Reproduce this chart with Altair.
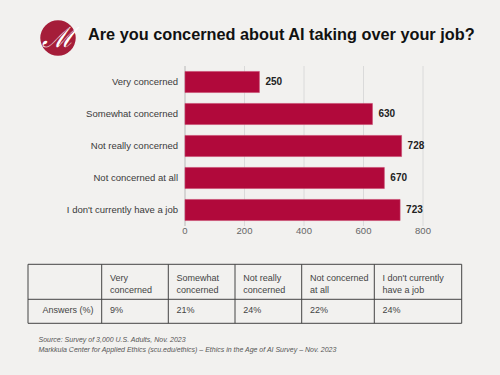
import altair as alt
import pandas as pd

# ---------------- data ----------------
categories = ["Very concerned", "Somewhat concerned", "Not really concerned",
              "Not concerned at all", "I don't currently have a job"]
counts = [250, 630, 728, 670, 723]
shares = [9, 21, 24, 22, 24]
x_ticks = [0, 200, 400, 600, 800]
header_labels = ["Very\nconcerned", "Somewhat\nconcerned", "Not really\nconcerned",
                 "Not concerned\nat all", "I don't currently\nhave a job"]
row_label = "Answers (%)"
title_text = "Are you concerned about AI taking over your job?"
source_lines = ["Source: Survey of 3,000 U.S. Adults, Nov. 2023",
                "Markkula Center for Applied Ethics  (scu.edu/ethics) \u2013  Ethics in the Age of AI Survey \u2013 Nov. 2023"]

# ---------------- layout / style ----------------
W, H = 500, 375
BG = "#f2f1ef"
BAR = "#b1093b"
FONT = "Liberation Sans"
X_RANGE = [185, 423]
Y_RANGE = [66, 226]
COL_EDGES = [28, 101.7, 168.3, 235, 301.7, 374.3, 461.7]
ROW_EDGES = [264.3, 299.3, 323.3]
CELL_PAD = 8.3

xs = alt.Scale(domain=[0, 800], range=X_RANGE)
ys = alt.Scale(type="band", domain=categories, range=Y_RANGE,
               paddingInner=0.34, paddingOuter=0.17)

one = pd.DataFrame({"a": [0]})
bars_df = pd.DataFrame({"cat": categories, "n": counts})
ticks_df = pd.DataFrame({"t": x_ticks})

# logo
logo = alt.Chart(one).mark_circle(size=1257, color="#a51d39", opacity=1).encode(
    x=alt.value(58), y=alt.value(38))
logo_m = alt.Chart(one).mark_text(text="\u2133", font="DejaVu Serif", fontSize=28,
                                  fontStyle="italic", color="white", align="center",
                                  baseline="middle").encode(
    x=alt.value(58), y=alt.value(39))

title = alt.Chart(one).mark_text(text=title_text, font=FONT, fontSize=16.3, fontWeight="bold",
                                 color="#111", align="left", baseline="alphabetic").encode(
    x=alt.value(88), y=alt.value(39.5))

grid = alt.Chart(ticks_df[ticks_df.t > 0]).mark_rule(color="#dadada", strokeWidth=1).encode(
    x=alt.X("t:Q", scale=xs, axis=None), y=alt.value(Y_RANGE[0]), y2=alt.value(Y_RANGE[1]))
zero = alt.Chart(ticks_df[ticks_df.t == 0]).mark_rule(color="#b8b8b8", strokeWidth=1).encode(
    x=alt.X("t:Q", scale=xs, axis=None), y=alt.value(Y_RANGE[0]), y2=alt.value(Y_RANGE[1]))
tick_labels = alt.Chart(ticks_df).mark_text(font=FONT, fontSize=9.5, color="#666",
                                            baseline="middle").encode(
    x=alt.X("t:Q", scale=xs, axis=None), y=alt.value(230.5), text="t:Q")

bars = alt.Chart(bars_df).mark_bar(color=BAR, stroke="#c8456b", strokeWidth=0.6).encode(
    x=alt.X("n:Q", scale=xs, axis=None),
    y=alt.Y("cat:N", scale=ys, axis=None))
values = alt.Chart(bars_df).mark_text(font=FONT, fontSize=10, fontWeight="bold", color="#222",
                                      align="left", dx=6, baseline="middle").encode(
    x=alt.X("n:Q", scale=xs, axis=None),
    y=alt.Y("cat:N", scale=ys, axis=None), text="n:Q")
cat_labels = alt.Chart(bars_df).mark_text(font=FONT, fontSize=9.5, color="#3a3a3a",
                                          align="right", baseline="middle").encode(
    x=alt.value(178), y=alt.Y("cat:N", scale=ys, axis=None), text="cat:N")

# table
vlines_df = pd.DataFrame({"xe": COL_EDGES})
hlines_df = pd.DataFrame({"ye": ROW_EDGES})
vlines = alt.Chart(vlines_df).mark_rule(color="#444", strokeWidth=1).encode(
    x=alt.X("xe:Q", scale=None), y=alt.value(ROW_EDGES[0]), y2=alt.value(ROW_EDGES[-1]))
hlines = alt.Chart(hlines_df).mark_rule(color="#444", strokeWidth=1).encode(
    y=alt.Y("ye:Q", scale=None), x=alt.value(COL_EDGES[0]), x2=alt.value(COL_EDGES[-1]))

head_df = pd.DataFrame({"lab": header_labels,
                        "left": [e + CELL_PAD for e in COL_EDGES[1:-1]]})
head = alt.Chart(head_df).mark_text(font=FONT, fontSize=9, color="#444", align="left",
                                    baseline="middle", lineBreak="\n", lineHeight=12.3).encode(
    x=alt.X("left:Q", scale=None), y=alt.value(277.8), text="lab:N")

cell_df = pd.DataFrame({"pct": [f"{s}%" for s in shares],
                        "left": [e + CELL_PAD for e in COL_EDGES[1:-1]]})
cells = alt.Chart(cell_df).mark_text(font=FONT, fontSize=9, color="#444", align="left",
                                     baseline="middle").encode(
    x=alt.X("left:Q", scale=None), y=alt.value(310), text="pct:N")
rowlab = alt.Chart(one).mark_text(text=row_label, font=FONT, fontSize=9, color="#444",
                                  align="right", baseline="middle").encode(
    x=alt.value(93.5), y=alt.value(310))

src_df = pd.DataFrame({"line": source_lines, "yy": [340, 350]})
source = alt.Chart(src_df).mark_text(font=FONT, fontSize=7, fontStyle="italic", color="#555",
                                     align="left", baseline="middle").encode(
    x=alt.value(38.5), y=alt.Y("yy:Q", scale=None), text="line:N")

chart = alt.layer(logo, logo_m, title, grid, zero, tick_labels, bars, values, cat_labels,
                  vlines, hlines, head, cells, rowlab, source).properties(
    width=W, height=H, background=BG, padding=0,
    autosize=alt.AutoSizeParams(type="none")
).configure_view(stroke=None)

chart.save("out.html", embed_options={"renderer": "svg", "actions": False})
